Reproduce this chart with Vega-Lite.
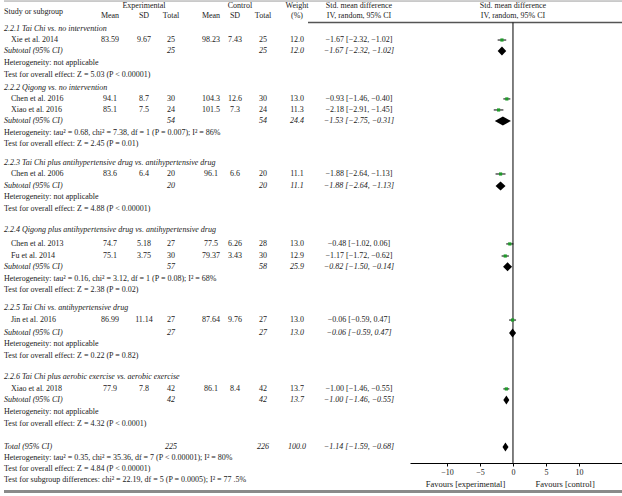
{
"$schema": "https://vega.github.io/schema/vega-lite/v6.json",
"padding": {"left": 2, "top": 0, "right": 0, "bottom": 0},
"background": "white",
"spacing": 0,
"bounds": "flush",
"config": {"view": {"stroke": null}, "text": {"font": "Liberation Serif", "fontSize": 8, "color": "#1a1a1a", "baseline": "middle"}},
"datasets": {
"rows": [
{"row":0,"kind":"head","label":"2.2.1 Tai Chi vs. no intervention"},
{"row":0.95,"kind":"study","label":"Xie et al. 2014","me":"83.59","sde":"9.67","ne":"25","mc":"98.23","sdc":"7.43","nc":"25","w":"12.0","ci":"−1.67 [−2.32, −1.02]","est":-1.67,"lo":-2.32,"hi":-1.02},
{"row":1.9,"kind":"sub","label":"Subtotal (95% CI)","ne":"25","nc":"25","w":"12.0","ci":"−1.67 [−2.32, −1.02]","est":-1.67,"lo":-2.32,"hi":-1.02},
{"row":2.93,"kind":"het","label":"Heterogeneity: not applicable"},
{"row":3.95,"kind":"test","label":"Test for overall effect: Z = 5.03 (P < 0.00001)"},
{"row":5.1,"kind":"head","label":"2.2.2 Qigong vs. no intervention"},
{"row":6.03,"kind":"study","label":"Chen et al. 2016","me":"94.1","sde":"8.7","ne":"30","mc":"104.3","sdc":"12.6","nc":"30","w":"13.0","ci":"−0.93 [−1.46, −0.40]","est":-0.93,"lo":-1.46,"hi":-0.40},
{"row":6.98,"kind":"study","label":"Xiao et al. 2016","me":"85.1","sde":"7.5","ne":"24","mc":"101.5","sdc":"7.3","nc":"24","w":"11.3","ci":"−2.18 [−2.91, −1.45]","est":-2.18,"lo":-2.91,"hi":-1.45},
{"row":7.93,"kind":"sub","label":"Subtotal (95% CI)","ne":"54","nc":"54","w":"24.4","ci":"−1.53 [−2.75, −0.31]","est":-1.53,"lo":-2.75,"hi":-0.31},
{"row":8.97,"kind":"het","label":"Heterogeneity: tau² = 0.68, chi² = 7.38, df = 1 (P = 0.007); I² = 86%"},
{"row":9.9,"kind":"test","label":"Test for overall effect: Z = 2.45 (P = 0.01)"},
{"row":11.55,"kind":"head","label":"2.2.3 Tai Chi plus antihypertensive drug vs. antihypertensive drug"},
{"row":12.5,"kind":"study","label":"Chen et al. 2006","me":"83.6","sde":"6.4","ne":"20","mc":"96.1","sdc":"6.6","nc":"20","w":"11.1","ci":"−1.88 [−2.64, −1.13]","est":-1.88,"lo":-2.64,"hi":-1.13},
{"row":13.53,"kind":"sub","label":"Subtotal (95% CI)","ne":"20","nc":"20","w":"11.1","ci":"−1.88 [−2.64, −1.13]","est":-1.88,"lo":-2.64,"hi":-1.13},
{"row":14.48,"kind":"het","label":"Heterogeneity: not applicable"},
{"row":15.5,"kind":"test","label":"Test for overall effect: Z = 4.88 (P < 0.00001)"},
{"row":17.33,"kind":"head","label":"2.2.4 Qigong plus antihypertensive drug vs. antihypertensive drug"},
{"row":18.53,"kind":"study","label":"Chen et al. 2013","me":"74.7","sde":"5.18","ne":"27","mc":"77.5","sdc":"6.26","nc":"28","w":"13.0","ci":"−0.48 [−1.02, 0.06]","est":-0.48,"lo":-1.02,"hi":0.06},
{"row":19.57,"kind":"study","label":"Fu et al. 2014","me":"75.1","sde":"3.75","ne":"30","mc":"79.37","sdc":"3.43","nc":"30","w":"12.9","ci":"−1.17 [−1.72, −0.62]","est":-1.17,"lo":-1.72,"hi":-0.62},
{"row":20.5,"kind":"sub","label":"Subtotal (95% CI)","ne":"57","nc":"58","w":"25.9","ci":"−0.82 [−1.50, −0.14]","est":-0.82,"lo":-1.50,"hi":-0.14},
{"row":21.55,"kind":"het","label":"Heterogeneity: tau² = 0.16, chi² = 3.12, df = 1 (P = 0.08); I² = 68%"},
{"row":22.5,"kind":"test","label":"Test for overall effect: Z = 2.38 (P = 0.02)"},
{"row":24.05,"kind":"head","label":"2.2.5 Tai Chi vs. antihypertensive drug"},
{"row":25.09,"kind":"study","label":"Jin et al. 2016","me":"86.99","sde":"11.14","ne":"27","mc":"87.64","sdc":"9.76","nc":"27","w":"13.0","ci":"−0.06 [−0.59, 0.47]","est":-0.06,"lo":-0.59,"hi":0.47},
{"row":26.2,"kind":"sub","label":"Subtotal (95% CI)","ne":"27","nc":"27","w":"13.0","ci":"−0.06 [−0.59, 0.47]","est":-0.06,"lo":-0.59,"hi":0.47},
{"row":27.16,"kind":"het","label":"Heterogeneity: not applicable"},
{"row":28.2,"kind":"test","label":"Test for overall effect: Z = 0.22 (P = 0.82)"},
{"row":30.0,"kind":"head","label":"2.2.6 Tai Chi plus aerobic exercise vs. aerobic exercise"},
{"row":31.03,"kind":"study","label":"Xiao et al. 2018","me":"77.9","sde":"7.8","ne":"42","mc":"86.1","sdc":"8.4","nc":"42","w":"13.7","ci":"−1.00 [−1.46, −0.55]","est":-1.00,"lo":-1.46,"hi":-0.55},
{"row":31.98,"kind":"sub","label":"Subtotal (95% CI)","ne":"42","nc":"42","w":"13.7","ci":"−1.00 [−1.46, −0.55]","est":-1.00,"lo":-1.46,"hi":-0.55},
{"row":33.0,"kind":"het","label":"Heterogeneity: not applicable"},
{"row":34.05,"kind":"test","label":"Test for overall effect: Z = 4.32 (P < 0.0001)"},
{"row":36.03,"kind":"total","label":"Total (95% CI)","ne":"225","nc":"226","w":"100.0","ci":"−1.14 [−1.59, −0.68]","est":-1.14,"lo":-1.59,"hi":-0.68},
{"row":36.98,"kind":"het","label":"Heterogeneity: tau² = 0.35, chi² = 35.36, df = 7 (P < 0.00001); I² = 80%"},
{"row":37.9,"kind":"test","label":"Test for overall effect: Z = 4.84 (P < 0.00001)"},
{"row":38.9,"kind":"test","label":"Test for subgroup differences: chi² = 22.19, df = 5 (P = 0.0005); I² = 77 .5%"}
],
"hdr": [
{"col":"label","row":-1.5,"text":"Study or subgroup"},
{"col":"sde","row":-1.98,"text":"Experimental"},
{"col":"me","row":-1.12,"text":"Mean"},
{"col":"sde","row":-1.12,"text":"SD"},
{"col":"ne","row":-1.12,"text":"Total"},
{"col":"ctl","row":-1.98,"text":"Control"},
{"col":"mc","row":-1.12,"text":"Mean"},
{"col":"sdc","row":-1.12,"text":"SD"},
{"col":"nc","row":-1.12,"text":"Total"},
{"col":"w","row":-1.98,"text":"Weight"},
{"col":"w","row":-1.12,"text":"(%)"},
{"col":"ci","row":-1.98,"text":"Std. mean difference"},
{"col":"ci","row":-1.12,"text":"IV, random, 95% CI"},
{"col":"plot","row":-1.98,"text":"Std. mean difference"},
{"col":"plot","row":-1.12,"text":"IV, random, 95% CI"},
{"col":"favE","row":39.22,"text":"Favours [experimental]"},
{"col":"favC","row":39.22,"text":"Favours [control]"}
]
},
"hconcat": [
{"width": 78, "height": 496, "layer": [
 {"data": {"values": [{}]}, "mark": {"type": "rule", "color": "#9a9a9a", "strokeWidth": 1}, "encoding": {"y": {"datum": -2.41, "type": "quantitative", "scale": {"domain": [-2.5, 40.26], "range": [0, 496], "nice": false, "zero": false}, "axis": null}}},
 {"data": {"values": [{}]}, "mark": {"type": "rule", "color": "#8a8a8a", "strokeWidth": 3}, "encoding": {"y": {"datum": 39.87, "type": "quantitative", "scale": {"domain": [-2.5, 40.26], "range": [0, 496], "nice": false, "zero": false}, "axis": null}}},
 {"data": {"name": "hdr"}, "transform": [{"filter": "datum.col == 'label'"}], "mark": {"type": "text", "align": "left"}, "encoding": {"x": {"datum": 0, "type": "quantitative", "scale": {"domain": [0, 1]}, "axis": null}, "y": {"field": "row", "type": "quantitative", "scale": {"domain": [-2.5, 40.26], "range": [0, 496], "nice": false, "zero": false}, "axis": null}, "text": {"field": "text", "type": "nominal"}}},
 {"data": {"name": "rows"}, "transform": [{"filter": "datum.kind == 'head' || datum.kind == 'sub' || datum.kind == 'total'"}], "mark": {"type": "text", "align": "left", "fontStyle": "italic"}, "encoding": {"x": {"datum": 0, "type": "quantitative", "scale": {"domain": [0, 1]}, "axis": null}, "y": {"field": "row", "type": "quantitative", "scale": {"domain": [-2.5, 40.26], "range": [0, 496], "nice": false, "zero": false}, "axis": null}, "text": {"field": "label", "type": "nominal"}}},
 {"data": {"name": "rows"}, "transform": [{"filter": "datum.kind == 'het' || datum.kind == 'test'"}], "mark": {"type": "text", "align": "left"}, "encoding": {"x": {"datum": 0, "type": "quantitative", "scale": {"domain": [0, 1]}, "axis": null}, "y": {"field": "row", "type": "quantitative", "scale": {"domain": [-2.5, 40.26], "range": [0, 496], "nice": false, "zero": false}, "axis": null}, "text": {"field": "label", "type": "nominal"}}},
 {"data": {"name": "rows"}, "transform": [{"filter": "datum.kind == 'study'"}], "mark": {"type": "text", "align": "left", "dx": 7}, "encoding": {"x": {"datum": 0, "type": "quantitative", "scale": {"domain": [0, 1]}, "axis": null}, "y": {"field": "row", "type": "quantitative", "scale": {"domain": [-2.5, 40.26], "range": [0, 496], "nice": false, "zero": false}, "axis": null}, "text": {"field": "label", "type": "nominal"}}}
]},
{"width": 56, "height": 496, "layer": [
 {"data": {"values": [{}]}, "mark": {"type": "rule", "color": "#9a9a9a", "strokeWidth": 1}, "encoding": {"y": {"datum": -2.41, "type": "quantitative", "scale": {"domain": [-2.5, 40.26], "range": [0, 496], "nice": false, "zero": false}, "axis": null}}},
 {"data": {"values": [{}]}, "mark": {"type": "rule", "color": "#8a8a8a", "strokeWidth": 3}, "encoding": {"y": {"datum": 39.87, "type": "quantitative", "scale": {"domain": [-2.5, 40.26], "range": [0, 496], "nice": false, "zero": false}, "axis": null}}},
 {"data": {"name": "hdr"}, "transform": [{"filter": "datum.col == 'me'"}], "mark": {"type": "text"}, "encoding": {"y": {"field": "row", "type": "quantitative", "scale": {"domain": [-2.5, 40.26], "range": [0, 496], "nice": false, "zero": false}, "axis": null}, "text": {"field": "text", "type": "nominal"}}},
 {"data": {"name": "rows"}, "transform": [{"filter": "datum.kind == 'study'"}], "mark": {"type": "text"}, "encoding": {"y": {"field": "row", "type": "quantitative", "scale": {"domain": [-2.5, 40.26], "range": [0, 496], "nice": false, "zero": false}, "axis": null}, "text": {"field": "me", "type": "nominal"}}}
]},
{"width": 12, "height": 496, "layer": [
 {"data": {"values": [{}]}, "mark": {"type": "rule", "color": "#9a9a9a", "strokeWidth": 1}, "encoding": {"y": {"datum": -2.41, "type": "quantitative", "scale": {"domain": [-2.5, 40.26], "range": [0, 496], "nice": false, "zero": false}, "axis": null}}},
 {"data": {"values": [{}]}, "mark": {"type": "rule", "color": "#8a8a8a", "strokeWidth": 3}, "encoding": {"y": {"datum": 39.87, "type": "quantitative", "scale": {"domain": [-2.5, 40.26], "range": [0, 496], "nice": false, "zero": false}, "axis": null}}},
 {"data": {"name": "hdr"}, "transform": [{"filter": "datum.col == 'sde'"}], "mark": {"type": "text"}, "encoding": {"y": {"field": "row", "type": "quantitative", "scale": {"domain": [-2.5, 40.26], "range": [0, 496], "nice": false, "zero": false}, "axis": null}, "text": {"field": "text", "type": "nominal"}}},
 {"data": {"name": "rows"}, "transform": [{"filter": "datum.kind == 'study'"}], "mark": {"type": "text"}, "encoding": {"y": {"field": "row", "type": "quantitative", "scale": {"domain": [-2.5, 40.26], "range": [0, 496], "nice": false, "zero": false}, "axis": null}, "text": {"field": "sde", "type": "nominal"}}}
]},
{"width": 42, "height": 496, "layer": [
 {"data": {"values": [{}]}, "mark": {"type": "rule", "color": "#9a9a9a", "strokeWidth": 1}, "encoding": {"y": {"datum": -2.41, "type": "quantitative", "scale": {"domain": [-2.5, 40.26], "range": [0, 496], "nice": false, "zero": false}, "axis": null}}},
 {"data": {"values": [{}]}, "mark": {"type": "rule", "color": "#8a8a8a", "strokeWidth": 3}, "encoding": {"y": {"datum": 39.87, "type": "quantitative", "scale": {"domain": [-2.5, 40.26], "range": [0, 496], "nice": false, "zero": false}, "axis": null}}},
 {"data": {"name": "hdr"}, "transform": [{"filter": "datum.col == 'ne'"}], "mark": {"type": "text"}, "encoding": {"y": {"field": "row", "type": "quantitative", "scale": {"domain": [-2.5, 40.26], "range": [0, 496], "nice": false, "zero": false}, "axis": null}, "text": {"field": "text", "type": "nominal"}}},
 {"data": {"name": "rows"}, "transform": [{"filter": "datum.kind == 'study'"}], "mark": {"type": "text"}, "encoding": {"y": {"field": "row", "type": "quantitative", "scale": {"domain": [-2.5, 40.26], "range": [0, 496], "nice": false, "zero": false}, "axis": null}, "text": {"field": "ne", "type": "nominal"}}},
 {"data": {"name": "rows"}, "transform": [{"filter": "datum.kind == 'sub' || datum.kind == 'total'"}], "mark": {"type": "text", "fontStyle": "italic"}, "encoding": {"y": {"field": "row", "type": "quantitative", "scale": {"domain": [-2.5, 40.26], "range": [0, 496], "nice": false, "zero": false}, "axis": null}, "text": {"field": "ne", "type": "nominal"}}}
]},
{"width": 38, "height": 496, "layer": [
 {"data": {"values": [{}]}, "mark": {"type": "rule", "color": "#9a9a9a", "strokeWidth": 1}, "encoding": {"y": {"datum": -2.41, "type": "quantitative", "scale": {"domain": [-2.5, 40.26], "range": [0, 496], "nice": false, "zero": false}, "axis": null}}},
 {"data": {"values": [{}]}, "mark": {"type": "rule", "color": "#8a8a8a", "strokeWidth": 3}, "encoding": {"y": {"datum": 39.87, "type": "quantitative", "scale": {"domain": [-2.5, 40.26], "range": [0, 496], "nice": false, "zero": false}, "axis": null}}},
 {"data": {"name": "hdr"}, "transform": [{"filter": "datum.col == 'mc'"}], "mark": {"type": "text"}, "encoding": {"y": {"field": "row", "type": "quantitative", "scale": {"domain": [-2.5, 40.26], "range": [0, 496], "nice": false, "zero": false}, "axis": null}, "text": {"field": "text", "type": "nominal"}}},
 {"data": {"name": "rows"}, "transform": [{"filter": "datum.kind == 'study'"}], "mark": {"type": "text"}, "encoding": {"y": {"field": "row", "type": "quantitative", "scale": {"domain": [-2.5, 40.26], "range": [0, 496], "nice": false, "zero": false}, "axis": null}, "text": {"field": "mc", "type": "nominal"}}}
]},
{"width": 10, "height": 496, "layer": [
 {"data": {"values": [{}]}, "mark": {"type": "rule", "color": "#9a9a9a", "strokeWidth": 1}, "encoding": {"y": {"datum": -2.41, "type": "quantitative", "scale": {"domain": [-2.5, 40.26], "range": [0, 496], "nice": false, "zero": false}, "axis": null}}},
 {"data": {"values": [{}]}, "mark": {"type": "rule", "color": "#8a8a8a", "strokeWidth": 3}, "encoding": {"y": {"datum": 39.87, "type": "quantitative", "scale": {"domain": [-2.5, 40.26], "range": [0, 496], "nice": false, "zero": false}, "axis": null}}},
 {"data": {"name": "hdr"}, "transform": [{"filter": "datum.col == 'sdc'"}], "mark": {"type": "text"}, "encoding": {"y": {"field": "row", "type": "quantitative", "scale": {"domain": [-2.5, 40.26], "range": [0, 496], "nice": false, "zero": false}, "axis": null}, "text": {"field": "text", "type": "nominal"}}},
 {"data": {"name": "hdr"}, "transform": [{"filter": "datum.col == 'ctl'"}], "mark": {"type": "text"}, "encoding": {"x": {"value": "width"}, "y": {"field": "row", "type": "quantitative", "scale": {"domain": [-2.5, 40.26], "range": [0, 496], "nice": false, "zero": false}, "axis": null}, "text": {"field": "text", "type": "nominal"}}},
 {"data": {"name": "rows"}, "transform": [{"filter": "datum.kind == 'study'"}], "mark": {"type": "text"}, "encoding": {"y": {"field": "row", "type": "quantitative", "scale": {"domain": [-2.5, 40.26], "range": [0, 496], "nice": false, "zero": false}, "axis": null}, "text": {"field": "sdc", "type": "nominal"}}}
]},
{"width": 46, "height": 496, "layer": [
 {"data": {"values": [{}]}, "mark": {"type": "rule", "color": "#9a9a9a", "strokeWidth": 1}, "encoding": {"y": {"datum": -2.41, "type": "quantitative", "scale": {"domain": [-2.5, 40.26], "range": [0, 496], "nice": false, "zero": false}, "axis": null}}},
 {"data": {"values": [{}]}, "mark": {"type": "rule", "color": "#8a8a8a", "strokeWidth": 3}, "encoding": {"y": {"datum": 39.87, "type": "quantitative", "scale": {"domain": [-2.5, 40.26], "range": [0, 496], "nice": false, "zero": false}, "axis": null}}},
 {"data": {"name": "hdr"}, "transform": [{"filter": "datum.col == 'nc'"}], "mark": {"type": "text"}, "encoding": {"y": {"field": "row", "type": "quantitative", "scale": {"domain": [-2.5, 40.26], "range": [0, 496], "nice": false, "zero": false}, "axis": null}, "text": {"field": "text", "type": "nominal"}}},
 {"data": {"name": "rows"}, "transform": [{"filter": "datum.kind == 'study'"}], "mark": {"type": "text"}, "encoding": {"y": {"field": "row", "type": "quantitative", "scale": {"domain": [-2.5, 40.26], "range": [0, 496], "nice": false, "zero": false}, "axis": null}, "text": {"field": "nc", "type": "nominal"}}},
 {"data": {"name": "rows"}, "transform": [{"filter": "datum.kind == 'sub' || datum.kind == 'total'"}], "mark": {"type": "text", "fontStyle": "italic"}, "encoding": {"y": {"field": "row", "type": "quantitative", "scale": {"domain": [-2.5, 40.26], "range": [0, 496], "nice": false, "zero": false}, "axis": null}, "text": {"field": "nc", "type": "nominal"}}}
]},
{"width": 22, "height": 496, "layer": [
 {"data": {"values": [{}]}, "mark": {"type": "rule", "color": "#9a9a9a", "strokeWidth": 1}, "encoding": {"y": {"datum": -2.41, "type": "quantitative", "scale": {"domain": [-2.5, 40.26], "range": [0, 496], "nice": false, "zero": false}, "axis": null}}},
 {"data": {"values": [{}]}, "mark": {"type": "rule", "color": "#8a8a8a", "strokeWidth": 3}, "encoding": {"y": {"datum": 39.87, "type": "quantitative", "scale": {"domain": [-2.5, 40.26], "range": [0, 496], "nice": false, "zero": false}, "axis": null}}},
 {"data": {"name": "hdr"}, "transform": [{"filter": "datum.col == 'w'"}], "mark": {"type": "text"}, "encoding": {"y": {"field": "row", "type": "quantitative", "scale": {"domain": [-2.5, 40.26], "range": [0, 496], "nice": false, "zero": false}, "axis": null}, "text": {"field": "text", "type": "nominal"}}},
 {"data": {"name": "rows"}, "transform": [{"filter": "datum.kind == 'study'"}], "mark": {"type": "text"}, "encoding": {"y": {"field": "row", "type": "quantitative", "scale": {"domain": [-2.5, 40.26], "range": [0, 496], "nice": false, "zero": false}, "axis": null}, "text": {"field": "w", "type": "nominal"}}},
 {"data": {"name": "rows"}, "transform": [{"filter": "datum.kind == 'sub' || datum.kind == 'total'"}], "mark": {"type": "text", "fontStyle": "italic"}, "encoding": {"y": {"field": "row", "type": "quantitative", "scale": {"domain": [-2.5, 40.26], "range": [0, 496], "nice": false, "zero": false}, "axis": null}, "text": {"field": "w", "type": "nominal"}}}
]},
{"width": 102, "height": 496, "layer": [
 {"data": {"values": [{}]}, "mark": {"type": "rule", "color": "#9a9a9a", "strokeWidth": 1}, "encoding": {"y": {"datum": -2.41, "type": "quantitative", "scale": {"domain": [-2.5, 40.26], "range": [0, 496], "nice": false, "zero": false}, "axis": null}}},
 {"data": {"values": [{}]}, "mark": {"type": "rule", "color": "#8a8a8a", "strokeWidth": 3}, "encoding": {"y": {"datum": 39.87, "type": "quantitative", "scale": {"domain": [-2.5, 40.26], "range": [0, 496], "nice": false, "zero": false}, "axis": null}}},
 {"data": {"values": [{}]}, "mark": {"type": "rule", "color": "#555555", "strokeWidth": 1.5}, "encoding": {"y": {"datum": -0.56, "type": "quantitative", "scale": {"domain": [-2.5, 40.26], "range": [0, 496], "nice": false, "zero": false}, "axis": null}}},
 {"data": {"name": "hdr"}, "transform": [{"filter": "datum.col == 'ci'"}], "mark": {"type": "text"}, "encoding": {"y": {"field": "row", "type": "quantitative", "scale": {"domain": [-2.5, 40.26], "range": [0, 496], "nice": false, "zero": false}, "axis": null}, "text": {"field": "text", "type": "nominal"}}},
 {"data": {"name": "rows"}, "transform": [{"filter": "datum.kind == 'study'"}], "mark": {"type": "text"}, "encoding": {"y": {"field": "row", "type": "quantitative", "scale": {"domain": [-2.5, 40.26], "range": [0, 496], "nice": false, "zero": false}, "axis": null}, "text": {"field": "ci", "type": "nominal"}}},
 {"data": {"name": "rows"}, "transform": [{"filter": "datum.kind == 'sub' || datum.kind == 'total'"}], "mark": {"type": "text", "fontStyle": "italic"}, "encoding": {"y": {"field": "row", "type": "quantitative", "scale": {"domain": [-2.5, 40.26], "range": [0, 496], "nice": false, "zero": false}, "axis": null}, "text": {"field": "ci", "type": "nominal"}}}
]},
{"width": 214, "height": 496,
 "layer": [
 {"data": {"values": [{}]}, "mark": {"type": "rule", "color": "#9a9a9a", "strokeWidth": 1}, "encoding": {"y": {"datum": -2.41, "type": "quantitative", "scale": {"domain": [-2.5, 40.26], "range": [0, 496], "nice": false, "zero": false}, "axis": null}}},
 {"data": {"values": [{}]}, "mark": {"type": "rule", "color": "#8a8a8a", "strokeWidth": 3}, "encoding": {"y": {"datum": 39.87, "type": "quantitative", "scale": {"domain": [-2.5, 40.26], "range": [0, 496], "nice": false, "zero": false}, "axis": null}}},
 {"data": {"values": [{}]}, "mark": {"type": "rule", "color": "#555555", "strokeWidth": 1.5}, "encoding": {"y": {"datum": -0.56, "type": "quantitative", "scale": {"domain": [-2.5, 40.26], "range": [0, 496], "nice": false, "zero": false}, "axis": null}}},
 {"data": {"name": "rows"}, "transform": [{"filter": "datum.kind == 'study'"}], "mark": {"type": "rule", "color": "#000000", "strokeWidth": 1},
  "encoding": {"x": {"field": "lo", "type": "quantitative", "scale": {"domain": [-15.6, 16.82], "nice": false, "zero": false},
     "axis": {"orient": "bottom", "offset": -33, "values": [-10, -5, 0, 5, 10], "tickSize": 3, "domainColor": "#000000", "tickColor": "#000000", "labelFont": "Liberation Serif", "labelFontSize": 8, "labelColor": "#1a1a1a", "labelPadding": 2, "grid": false, "title": null, "labelFlush": false, "domainWidth": 1, "tickWidth": 1}},
   "x2": {"field": "hi"},
   "y": {"field": "row", "type": "quantitative", "scale": {"domain": [-2.5, 40.26], "range": [0, 496], "nice": false, "zero": false}, "axis": null}}},
 {"data": {"values": [{}]}, "mark": {"type": "rule", "color": "#000000", "strokeWidth": 1}, "encoding": {"x": {"datum": 0, "type": "quantitative", "axis": {"orient": "bottom", "offset": -33, "values": [-10, -5, 0, 5, 10], "tickSize": 3, "domainColor": "#000000", "tickColor": "#000000", "labelFont": "Liberation Serif", "labelFontSize": 8, "labelColor": "#1a1a1a", "labelPadding": 2, "grid": false, "title": null, "labelFlush": false, "domainWidth": 1, "tickWidth": 1}}, "y": {"datum": -0.56, "type": "quantitative", "scale": {"domain": [-2.5, 40.26], "range": [0, 496], "nice": false, "zero": false}, "axis": null}, "y2": {"datum": 37.41}}},
 {"data": {"name": "rows"}, "transform": [{"filter": "datum.kind == 'study'"}], "mark": {"type": "point", "shape": "square", "filled": true, "color": "#1f9a2a", "size": 10, "opacity": 1},
  "encoding": {"x": {"field": "est", "type": "quantitative", "axis": {"orient": "bottom", "offset": -33, "values": [-10, -5, 0, 5, 10], "tickSize": 3, "domainColor": "#000000", "tickColor": "#000000", "labelFont": "Liberation Serif", "labelFontSize": 8, "labelColor": "#1a1a1a", "labelPadding": 2, "grid": false, "title": null, "labelFlush": false, "domainWidth": 1, "tickWidth": 1}}, "y": {"field": "row", "type": "quantitative", "scale": {"domain": [-2.5, 40.26], "range": [0, 496], "nice": false, "zero": false}, "axis": null}}},
 {"data": {"name": "rows"}, "transform": [{"filter": "datum.kind == 'sub' || datum.kind == 'total'"}, {"fold": ["lo", "est", "hi"], "as": ["pt", "xv"]}],
  "mark": {"type": "area", "orient": "vertical", "color": "#000000", "yOffset": {"expr": "datum.pt == 'est' ? -4.5 : 0"}, "y2Offset": {"expr": "datum.pt == 'est' ? 4.5 : 0"}},
  "encoding": {"x": {"field": "xv", "type": "quantitative", "axis": {"orient": "bottom", "offset": -33, "values": [-10, -5, 0, 5, 10], "tickSize": 3, "domainColor": "#000000", "tickColor": "#000000", "labelFont": "Liberation Serif", "labelFontSize": 8, "labelColor": "#1a1a1a", "labelPadding": 2, "grid": false, "title": null, "labelFlush": false, "domainWidth": 1, "tickWidth": 1}}, "y": {"field": "row", "type": "quantitative", "scale": {"domain": [-2.5, 40.26], "range": [0, 496], "nice": false, "zero": false}, "axis": null}, "y2": {"field": "row"}, "detail": {"field": "row", "type": "nominal"}}},
 {"data": {"name": "hdr"}, "transform": [{"filter": "datum.col == 'plot'"}], "mark": {"type": "text"}, "encoding": {"x": {"datum": 0, "type": "quantitative", "axis": {"orient": "bottom", "offset": -33, "values": [-10, -5, 0, 5, 10], "tickSize": 3, "domainColor": "#000000", "tickColor": "#000000", "labelFont": "Liberation Serif", "labelFontSize": 8, "labelColor": "#1a1a1a", "labelPadding": 2, "grid": false, "title": null, "labelFlush": false, "domainWidth": 1, "tickWidth": 1}}, "y": {"field": "row", "type": "quantitative", "scale": {"domain": [-2.5, 40.26], "range": [0, 496], "nice": false, "zero": false}, "axis": null}, "text": {"field": "text", "type": "nominal"}}},
 {"data": {"name": "hdr"}, "transform": [{"filter": "datum.col == 'favE'"}], "mark": {"type": "text", "fontSize": 8.5}, "encoding": {"x": {"datum": -7.2, "type": "quantitative", "axis": {"orient": "bottom", "offset": -33, "values": [-10, -5, 0, 5, 10], "tickSize": 3, "domainColor": "#000000", "tickColor": "#000000", "labelFont": "Liberation Serif", "labelFontSize": 8, "labelColor": "#1a1a1a", "labelPadding": 2, "grid": false, "title": null, "labelFlush": false, "domainWidth": 1, "tickWidth": 1}}, "y": {"field": "row", "type": "quantitative", "scale": {"domain": [-2.5, 40.26], "range": [0, 496], "nice": false, "zero": false}, "axis": null}, "text": {"field": "text", "type": "nominal"}}},
 {"data": {"name": "hdr"}, "transform": [{"filter": "datum.col == 'favC'"}], "mark": {"type": "text", "fontSize": 8.5}, "encoding": {"x": {"datum": 7.9, "type": "quantitative", "axis": {"orient": "bottom", "offset": -33, "values": [-10, -5, 0, 5, 10], "tickSize": 3, "domainColor": "#000000", "tickColor": "#000000", "labelFont": "Liberation Serif", "labelFontSize": 8, "labelColor": "#1a1a1a", "labelPadding": 2, "grid": false, "title": null, "labelFlush": false, "domainWidth": 1, "tickWidth": 1}}, "y": {"field": "row", "type": "quantitative", "scale": {"domain": [-2.5, 40.26], "range": [0, 496], "nice": false, "zero": false}, "axis": null}, "text": {"field": "text", "type": "nominal"}}}
]}
]
}
